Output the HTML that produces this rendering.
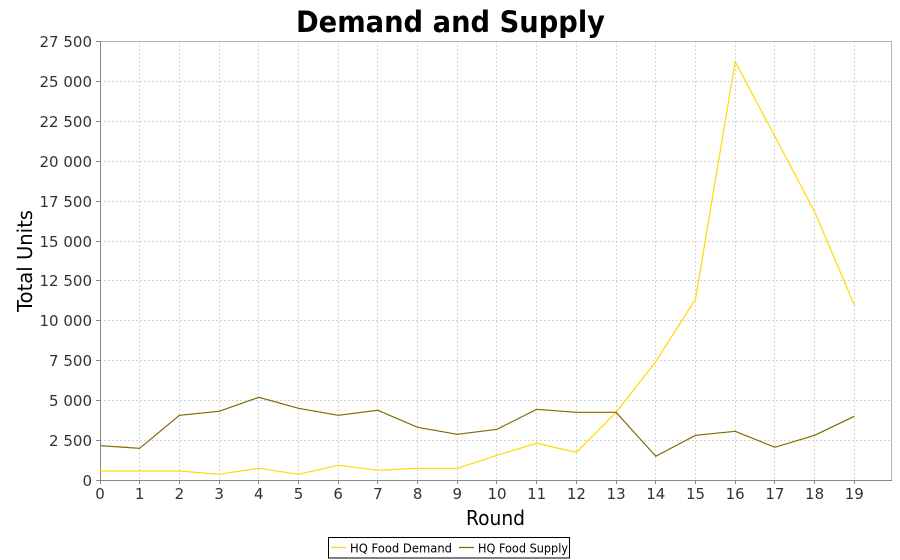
<!DOCTYPE html>
<html><head><meta charset="utf-8"><style>
html,body{margin:0;padding:0;background:#fff;}
svg{display:block;font-family:"DejaVu Sans","Liberation Sans",sans-serif;}
</style></head><body>
<svg width="900" height="560" viewBox="0 0 900 560" xmlns="http://www.w3.org/2000/svg">
<rect x="0" y="0" width="900" height="560" fill="#fff"/>
<text x="450.5" y="32" text-anchor="middle" font-size="29" font-weight="bold" fill="#000" textLength="309" lengthAdjust="spacingAndGlyphs">Demand and Supply</text>
<g stroke="#d4d4d4" stroke-width="1" stroke-dasharray="2,2" fill="none">
<line x1="100" y1="440.5" x2="892" y2="440.5"/>
<line x1="100" y1="400.5" x2="892" y2="400.5"/>
<line x1="100" y1="360.5" x2="892" y2="360.5"/>
<line x1="100" y1="320.5" x2="892" y2="320.5"/>
<line x1="100" y1="280.5" x2="892" y2="280.5"/>
<line x1="100" y1="241.5" x2="892" y2="241.5"/>
<line x1="100" y1="201.5" x2="892" y2="201.5"/>
<line x1="100" y1="161.5" x2="892" y2="161.5"/>
<line x1="100" y1="121.5" x2="892" y2="121.5"/>
<line x1="100" y1="81.5" x2="892" y2="81.5"/>
<line x1="139.5" y1="41" x2="139.5" y2="480"/>
<line x1="179.5" y1="41" x2="179.5" y2="480"/>
<line x1="219.5" y1="41" x2="219.5" y2="480"/>
<line x1="258.5" y1="41" x2="258.5" y2="480"/>
<line x1="298.5" y1="41" x2="298.5" y2="480"/>
<line x1="338.5" y1="41" x2="338.5" y2="480"/>
<line x1="377.5" y1="41" x2="377.5" y2="480"/>
<line x1="417.5" y1="41" x2="417.5" y2="480"/>
<line x1="457.5" y1="41" x2="457.5" y2="480"/>
<line x1="496.5" y1="41" x2="496.5" y2="480"/>
<line x1="536.5" y1="41" x2="536.5" y2="480"/>
<line x1="576.5" y1="41" x2="576.5" y2="480"/>
<line x1="616.5" y1="41" x2="616.5" y2="480"/>
<line x1="655.5" y1="41" x2="655.5" y2="480"/>
<line x1="695.5" y1="41" x2="695.5" y2="480"/>
<line x1="735.5" y1="41" x2="735.5" y2="480"/>
<line x1="774.5" y1="41" x2="774.5" y2="480"/>
<line x1="814.5" y1="41" x2="814.5" y2="480"/>
<line x1="854.5" y1="41" x2="854.5" y2="480"/>
</g>
<!-- plot border -->
<line x1="100" y1="41.5" x2="892" y2="41.5" stroke="#b4b4b4"/>
<line x1="891.5" y1="41" x2="891.5" y2="480" stroke="#b4b4b4"/>
<!-- axes -->
<line x1="100.5" y1="41" x2="100.5" y2="480" stroke="#888"/>
<line x1="100" y1="480.5" x2="892" y2="480.5" stroke="#888"/>
<g stroke="#888">
<line x1="96" y1="480.5" x2="100" y2="480.5"/>
<line x1="96" y1="440.5" x2="100" y2="440.5"/>
<line x1="96" y1="400.5" x2="100" y2="400.5"/>
<line x1="96" y1="360.5" x2="100" y2="360.5"/>
<line x1="96" y1="320.5" x2="100" y2="320.5"/>
<line x1="96" y1="280.5" x2="100" y2="280.5"/>
<line x1="96" y1="241.5" x2="100" y2="241.5"/>
<line x1="96" y1="201.5" x2="100" y2="201.5"/>
<line x1="96" y1="161.5" x2="100" y2="161.5"/>
<line x1="96" y1="121.5" x2="100" y2="121.5"/>
<line x1="96" y1="81.5" x2="100" y2="81.5"/>
<line x1="96" y1="41.5" x2="100" y2="41.5"/>
<line x1="100.5" y1="480" x2="100.5" y2="484"/>
<line x1="139.5" y1="480" x2="139.5" y2="484"/>
<line x1="179.5" y1="480" x2="179.5" y2="484"/>
<line x1="219.5" y1="480" x2="219.5" y2="484"/>
<line x1="258.5" y1="480" x2="258.5" y2="484"/>
<line x1="298.5" y1="480" x2="298.5" y2="484"/>
<line x1="338.5" y1="480" x2="338.5" y2="484"/>
<line x1="377.5" y1="480" x2="377.5" y2="484"/>
<line x1="417.5" y1="480" x2="417.5" y2="484"/>
<line x1="457.5" y1="480" x2="457.5" y2="484"/>
<line x1="496.5" y1="480" x2="496.5" y2="484"/>
<line x1="536.5" y1="480" x2="536.5" y2="484"/>
<line x1="576.5" y1="480" x2="576.5" y2="484"/>
<line x1="616.5" y1="480" x2="616.5" y2="484"/>
<line x1="655.5" y1="480" x2="655.5" y2="484"/>
<line x1="695.5" y1="480" x2="695.5" y2="484"/>
<line x1="735.5" y1="480" x2="735.5" y2="484"/>
<line x1="774.5" y1="480" x2="774.5" y2="484"/>
<line x1="814.5" y1="480" x2="814.5" y2="484"/>
<line x1="854.5" y1="480" x2="854.5" y2="484"/>
</g>
<g font-size="15" fill="#333" text-anchor="end">
<text x="92" y="486">0</text>
<text x="92" y="446">2 500</text>
<text x="92" y="406">5 000</text>
<text x="92" y="366">7 500</text>
<text x="92" y="326">10 000</text>
<text x="92" y="286">12 500</text>
<text x="92" y="247">15 000</text>
<text x="92" y="207">17 500</text>
<text x="92" y="167">20 000</text>
<text x="92" y="127">22 500</text>
<text x="92" y="87">25 000</text>
<text x="92" y="47">27 500</text>
</g>
<g font-size="15" fill="#333" text-anchor="middle">
<text x="100" y="499">0</text>
<text x="139.7" y="499">1</text>
<text x="179.4" y="499">2</text>
<text x="219.1" y="499">3</text>
<text x="258.8" y="499">4</text>
<text x="298.5" y="499">5</text>
<text x="338.2" y="499">6</text>
<text x="377.9" y="499">7</text>
<text x="417.6" y="499">8</text>
<text x="457.3" y="499">9</text>
<text x="497" y="499">10</text>
<text x="536.7" y="499">11</text>
<text x="576.4" y="499">12</text>
<text x="616.1" y="499">13</text>
<text x="655.8" y="499">14</text>
<text x="695.5" y="499">15</text>
<text x="735.2" y="499">16</text>
<text x="774.9" y="499">17</text>
<text x="814.6" y="499">18</text>
<text x="854.3" y="499">19</text>
</g>
<text x="495.5" y="525" text-anchor="middle" font-size="20" fill="#000" textLength="59" lengthAdjust="spacingAndGlyphs">Round</text>
<text transform="translate(32,261) rotate(-90)" text-anchor="middle" font-size="20" fill="#000" textLength="102" lengthAdjust="spacingAndGlyphs">Total Units</text>
<!-- series -->
<polyline fill="none" stroke="#FFDA00" stroke-width="1.2" stroke-linejoin="miter" points="100,471 139.7,471 179.4,471 219.1,474.3 258.8,468.3 298.5,474.3 338.2,465.3 377.9,470.3 417.6,468.3 457.3,468.3 497,455.3 536.7,443.3 576.4,452.3 616.1,412.3 655.8,361.7 695.5,299 735.2,61.7 774.9,136.5 814.6,211.7 854.3,305"/>
<polyline fill="none" stroke="#7F6A00" stroke-width="1.2" stroke-linejoin="miter" points="100,445.7 139.7,448.3 179.4,415.3 219.1,411.3 258.8,397.3 298.5,408.3 338.2,415.3 377.9,410.3 417.6,427.3 457.3,434.3 497,429.3 536.7,409.3 576.4,412.3 616.1,412.3 655.8,456.3 695.5,435.3 735.2,431.3 774.9,447.3 814.6,435.3 854.3,416.3"/>
<!-- legend -->
<rect x="328.5" y="537.5" width="241" height="20.5" fill="#fff" stroke="#000" stroke-width="1"/>
<line x1="331" y1="547.5" x2="346" y2="547.5" stroke="#FFDA00" stroke-width="1.2"/>
<text x="350" y="552.3" font-size="12" fill="#000" textLength="102" lengthAdjust="spacingAndGlyphs">HQ Food Demand</text>
<line x1="459" y1="547.5" x2="474" y2="547.5" stroke="#7F6A00" stroke-width="1.2"/>
<text x="478" y="552.3" font-size="12" fill="#000" textLength="90" lengthAdjust="spacingAndGlyphs">HQ Food Supply</text>
</svg>
</body></html>
